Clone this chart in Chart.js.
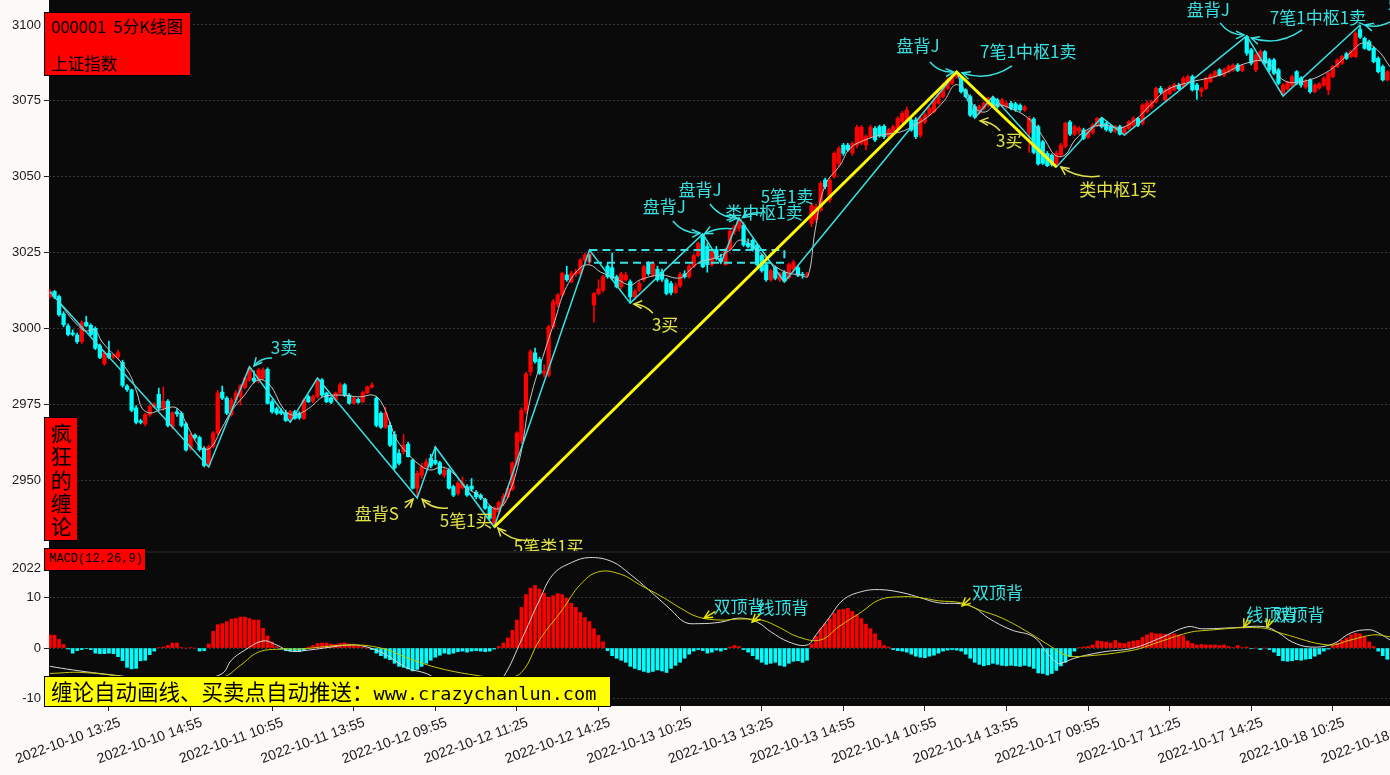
<!DOCTYPE html>
<html lang="zh">
<head>
<meta charset="UTF-8">
<title>000001 5分K线图</title>
<script src="https://cdn.jsdelivr.net/npm/chart.js@4.4.1/dist/chart.umd.min.js"></script>
<style>
  body {
    margin: 0;
    width: 1390px;
    height: 775px;
    overflow: hidden;
    position: relative;
    background: #fcf9f8;
    font-family: "Noto Sans CJK SC", sans-serif;
  }
  canvas { position: absolute; left: 0; }
  #main { top: 0; }
  #macd { top: 553px; }
  .sep { position: absolute; left: 49px; top: 551px; width: 1341px; height: 2px; background: #1c1c1c; }
  .box { position: absolute; background: #ff0000; border: 1px solid #000; box-sizing: border-box; color: #000; }
  #title { left: 44px; top: 12px; width: 147px; height: 64px; font-size: 16.5px; line-height: 19px; }
  #title div { position: absolute; left: 6px; white-space: pre; }
  #vert { left: 44px; top: 417px; width: 34px; height: 124px; font-size: 21px; line-height: 23.3px; text-align: center; padding-top: 3px; }
  #macdTag { left: 44px; top: 548px; width: 102px; height: 23px; font: 12px "Liberation Mono", monospace; line-height: 21px; padding-left: 4px; }
  #ad { position: absolute; left: 44px; top: 676px; width: 567px; height: 31px; background: #ffff00; border: 1px solid #000; box-sizing: border-box; color: #000; white-space: nowrap; line-height: 28px; padding-left: 6px; }
  #ad .cn { font-size: 21.5px; }
  #ad .url { font: 18.5px "DejaVu Sans Mono", monospace; }
</style>
</head>
<body>
<canvas id="main" width="1390" height="551"></canvas>
<div class="sep"></div>
<canvas id="macd" width="1390" height="222"></canvas>

<div class="box" id="title"><div style="top:4px">000001  5分K线图</div><div style="top:41px">上证指数</div></div>
<div class="box" id="vert">疯<br>狂<br>的<br>缠<br>论</div>
<div class="box" id="macdTag">MACD(12,26,9)</div>
<div id="ad"><span class="cn">缠论自动画线、买卖点自动推送：</span><span class="url">www.crazychanlun.com</span></div>

<script>
// 5分钟K线 2022-10-10 13:05 ~ 2022-10-18 13:40, one entry per bar
const opens = [
  3010.5,3012.2,3010.5,3004.8,3000.8,2998.5,2997.8,2995.6,3002.0,3001.0,
  3000.0,2994.2,2988.3,2991.8,2990.5,2990.6,2988.8,2981.0,2979.7,2973.8,
  2969.5,2968.5,2971.5,2974.2,2978.3,2973.8,2976.0,2967.6,2972.5,2972.0,
  2968.5,2960.5,2964.8,2964.0,2960.5,2954.9,2961.0,2965.5,2979.0,2977.0,
  2971.5,2976.4,2977.5,2980.5,2983.0,2983.6,2982.6,2983.5,2986.5,2975.8,
  2973.5,2972.8,2972.2,2970.3,2972.5,2972.0,2970.3,2977.5,2976.0,2977.5,
  2983.0,2978.7,2977.0,2976.4,2978.7,2981.4,2978.0,2975.3,2976.6,2975.8,
  2978.8,2980.7,2977.0,2972.0,2967.4,2968.0,2965.0,2958.8,2959.3,2961.8,
  2956.6,2947.3,2951.6,2954.4,2957.2,2956.5,2955.7,2951.6,2953.3,2947.8,
  2945.6,2947.5,2947.8,2948.0,2946.0,2945.0,2943.6,2941.2,2935.0,2939.5,
  2942.6,2944.5,2947.0,2955.6,2963.0,2973.0,2985.7,2991.9,2989.8,2985.2,
  2984.6,3000.5,3008.0,3011.0,3017.6,3015.4,3018.1,3018.0,3022.5,3022.0,
  3007.7,3011.5,3012.6,3020.5,3020.0,3017.0,3013.7,3016.0,3015.4,3010.4,
  3012.6,3016.0,3021.5,3017.6,3019.5,3018.5,3016.0,3014.8,3011.8,3014.0,
  3018.0,3017.0,3020.5,3024.0,3031.0,3027.0,3021.0,3026.0,3023.0,3021.0,
  3026.0,3032.0,3033.0,3034.0,3028.0,3029.0,3027.5,3024.0,3021.0,3016.0,
  3020.0,3016.0,3018.5,3016.7,3019.5,3020.0,3017.8,3017.6,3034.6,3036.0,
  3039.0,3048.9,3042.3,3050.0,3054.4,3060.4,3060.4,3057.8,3060.4,3061.0,
  3060.4,3063.2,3065.9,3066.5,3066.6,3063.2,3064.3,3065.9,3068.1,3068.7,
  3068.7,3068.7,3063.7,3068.1,3070.3,3071.4,3074.2,3076.4,3079.1,3080.8,
  3082.9,3082.4,3078.6,3076.4,3073.1,3071.0,3072.5,3073.6,3075.9,3075.3,
  3073.6,3073.1,3074.2,3074.0,3073.5,3072.0,3064.5,3069.0,3066.5,3061.5,
  3057.7,3057.0,3054.0,3057.1,3060.0,3068.0,3064.0,3065.0,3065.4,3063.0,
  3064.5,3067.0,3069.2,3067.5,3066.5,3065.0,3066.5,3064.3,3066.0,3067.0,
  3069.2,3067.6,3071.4,3073.0,3074.7,3079.1,3075.3,3077.5,3078.6,3080.2,
  3079.7,3081.3,3083.0,3080.2,3078.0,3079.1,3081.3,3083.0,3085.2,3083.5,
  3084.6,3085.2,3086.8,3085.0,3096.2,3091.8,3085.2,3088.5,3091.2,3088.5,
  3088.5,3085.2,3077.5,3079.0,3080.2,3084.6,3082.5,3079.5,3081.9,3078.0,
  3079.2,3080.2,3078.6,3083.0,3086.3,3087.4,3090.5,3089.6,3089.6,3098.5,
  3095.6,3094.5,3092.3,3089.0,3086.3,3081.9
];
const highs = [
  3012.8,3012.5,3011.0,3005.5,3001.5,2999.5,2998.5,3002.5,3004.0,3001.5,
  3000.5,2994.8,2992.5,2995.8,2991.5,2992.8,2989.5,2981.5,2980.0,2974.5,
  2970.0,2972.0,2974.8,2975.5,2980.3,2980.7,2976.5,2972.5,2973.5,2972.5,
  2969.0,2965.5,2965.2,2964.5,2961.0,2961.5,2966.0,2979.5,2981.0,2977.5,
  2977.0,2979.5,2981.5,2984.0,2987.3,2986.0,2986.8,2987.0,2987.0,2976.5,
  2974.0,2973.5,2973.0,2973.0,2973.0,2972.5,2977.0,2978.0,2978.0,2983.6,
  2983.4,2979.0,2977.5,2979.0,2982.0,2981.8,2978.5,2977.5,2977.0,2979.2,
  2981.0,2982.0,2977.5,2972.5,2974.0,2969.0,2966.0,2960.0,2965.0,2962.5,
  2957.0,2953.0,2955.5,2957.0,2958.5,2960.9,2956.2,2953.8,2953.8,2948.3,
  2949.5,2951.0,2948.5,2950.5,2946.5,2945.5,2944.0,2941.6,2941.2,2943.0,
  2945.5,2948.0,2956.0,2966.0,2973.8,2985.5,2993.0,2993.5,2990.5,2988.0,
  3001.0,3009.5,3011.5,3018.5,3020.5,3018.8,3019.5,3023.0,3024.8,3025.8,
  3011.8,3016.0,3017.5,3021.5,3024.8,3017.5,3018.5,3018.5,3016.0,3013.0,
  3015.5,3020.8,3022.0,3022.0,3020.5,3019.5,3016.5,3015.5,3015.0,3018.5,
  3019.0,3021.0,3024.5,3028.5,3031.1,3028.0,3026.0,3027.0,3024.5,3026.5,
  3032.5,3034.0,3036.4,3034.8,3029.5,3029.5,3028.0,3024.5,3021.5,3019.5,
  3020.5,3018.5,3019.0,3021.5,3022.5,3020.5,3018.5,3018.5,3041.5,3041.0,
  3048.5,3049.5,3049.5,3058.2,3060.0,3061.0,3061.0,3061.5,3067.0,3066.8,
  3063.8,3067.0,3066.5,3067.0,3067.2,3066.0,3067.0,3069.8,3071.5,3073.0,
  3069.5,3069.5,3070.0,3071.0,3073.2,3076.0,3078.2,3080.8,3082.5,3083.6,
  3084.5,3083.0,3079.0,3077.0,3073.8,3073.6,3074.8,3076.2,3076.5,3075.8,
  3075.8,3074.8,3074.8,3074.5,3074.0,3073.5,3069.8,3069.5,3067.0,3062.0,
  3058.3,3057.5,3058.5,3061.0,3068.0,3068.5,3067.0,3066.5,3066.0,3065.5,
  3067.5,3069.5,3069.5,3068.0,3067.0,3067.0,3067.0,3066.5,3068.5,3069.8,
  3069.6,3074.0,3075.0,3075.2,3079.5,3079.8,3079.0,3080.0,3080.8,3080.8,
  3083.0,3083.5,3083.5,3080.8,3079.5,3082.8,3084.0,3085.0,3085.6,3085.8,
  3086.8,3087.2,3087.3,3087.0,3096.4,3092.3,3090.6,3091.8,3091.6,3089.0,
  3089.0,3085.7,3080.6,3081.5,3083.5,3085.0,3083.0,3082.0,3082.3,3080.6,
  3081.0,3083.0,3084.5,3086.7,3088.9,3090.0,3091.0,3091.6,3097.8,3100.0,
  3096.0,3095.0,3092.8,3089.5,3086.8,3085.0
];
const lows = [
  3010.0,3009.8,3004.0,3000.5,2997.5,2997.5,2995.0,2995.0,3000.5,2997.5,
  2993.0,2990.0,2987.8,2990.0,2990.0,2989.8,2980.6,2979.2,2972.5,2968.5,
  2968.5,2967.8,2971.0,2973.8,2973.2,2973.0,2967.5,2966.8,2971.0,2967.5,
  2959.5,2959.8,2963.5,2959.5,2954.3,2954.3,2960.5,2965.0,2976.5,2971.5,
  2971.0,2975.5,2974.7,2980.0,2982.5,2982.0,2982.0,2983.0,2975.0,2972.0,
  2971.5,2971.5,2969.3,2969.1,2970.0,2970.0,2970.0,2975.5,2975.5,2977.0,
  2977.5,2975.5,2975.2,2976.0,2978.0,2977.5,2975.0,2975.0,2975.3,2975.5,
  2978.5,2980.3,2967.5,2967.0,2967.0,2961.0,2953.5,2955.0,2958.5,2957.5,
  2947.0,2944.1,2950.5,2953.8,2954.0,2955.0,2951.8,2950.8,2947.0,2944.5,
  2945.0,2947.0,2944.6,2946.5,2943.8,2943.5,2940.3,2937.0,2934.5,2938.8,
  2941.5,2944.0,2946.5,2955.0,2962.0,2972.0,2984.5,2988.5,2984.8,2984.0,
  2984.0,3000.0,3007.0,3010.5,3015.5,3015.0,3017.0,3017.5,3021.8,3021.0,
  3002.0,3011.0,3012.0,3016.5,3016.0,3013.3,3013.0,3015.5,3008.3,3009.5,
  3012.0,3015.5,3017.5,3017.0,3015.5,3015.5,3011.0,3011.0,3011.5,3013.5,
  3016.5,3016.5,3020.0,3023.5,3020.0,3018.5,3020.5,3022.5,3021.5,3020.8,
  3025.5,3031.0,3032.0,3027.0,3026.5,3025.5,3020.5,3018.5,3015.5,3015.5,
  3016.0,3015.5,3015.3,3016.3,3019.0,3017.0,3016.5,3016.8,3033.5,3035.0,
  3038.5,3046.0,3041.5,3049.5,3053.5,3057.0,3058.3,3057.0,3059.5,3060.5,
  3058.8,3062.8,3061.5,3063.0,3062.5,3062.8,3064.0,3065.5,3067.5,3068.3,
  3065.0,3062.5,3063.0,3067.5,3070.0,3071.0,3073.8,3076.0,3078.7,3080.3,
  3082.4,3077.5,3076.0,3069.8,3069.3,3070.5,3072.0,3073.0,3073.2,3072.5,
  3073.0,3072.5,3072.0,3071.5,3071.5,3071.5,3058.0,3057.5,3053.8,3054.0,
  3053.3,3053.5,3053.2,3056.5,3059.5,3063.5,3063.5,3064.0,3062.2,3062.5,
  3064.0,3066.5,3066.0,3065.0,3064.5,3064.5,3063.7,3063.7,3065.5,3066.5,
  3066.5,3067.0,3071.0,3072.5,3074.2,3077.3,3074.8,3077.0,3078.2,3078.6,
  3079.2,3081.0,3078.2,3075.5,3076.4,3078.7,3081.0,3082.7,3083.2,3083.0,
  3084.2,3084.8,3084.6,3084.6,3090.0,3086.8,3084.6,3088.0,3086.8,3084.6,
  3083.6,3080.3,3076.6,3078.5,3079.7,3080.3,3079.5,3079.0,3077.5,3077.6,
  3078.8,3079.8,3077.0,3082.6,3085.9,3087.0,3088.6,3089.2,3089.2,3095.5,
  3092.0,3091.5,3087.5,3084.2,3081.5,3081.5
];
const closes = [
  3012.2,3010.3,3004.5,3001.2,2998.0,2998.0,2995.6,3001.8,3000.8,2998.0,
  2993.4,2990.4,2992.0,2990.4,2991.2,2992.0,2981.2,2979.8,2973.0,2969.0,
  2969.0,2971.5,2974.2,2975.0,2973.7,2976.0,2968.0,2972.2,2971.8,2968.0,
  2959.9,2964.9,2964.0,2960.0,2954.8,2961.0,2965.5,2978.7,2977.0,2972.0,
  2976.4,2978.7,2981.0,2983.6,2986.9,2982.6,2986.3,2986.3,2975.3,2972.5,
  2972.0,2972.0,2969.6,2972.5,2970.3,2970.5,2976.4,2975.8,2977.5,2983.0,
  2978.0,2975.8,2975.6,2978.7,2981.4,2978.0,2975.3,2977.0,2975.6,2978.8,
  2980.7,2981.3,2968.0,2967.4,2972.2,2961.5,2954.0,2955.5,2961.5,2957.7,
  2947.3,2952.2,2954.4,2956.0,2954.6,2955.5,2952.2,2953.3,2947.3,2945.0,
  2949.0,2949.0,2945.0,2947.0,2944.5,2944.0,2940.7,2937.4,2940.7,2942.6,
  2944.5,2947.2,2955.6,2965.5,2973.0,2985.0,2992.3,2989.0,2985.2,2986.0,
  3000.5,3008.8,3011.0,3018.1,3016.0,3018.1,3018.6,3022.5,3024.2,3024.5,
  3011.5,3013.0,3017.0,3017.0,3016.5,3013.7,3018.0,3017.5,3010.4,3012.3,
  3014.8,3020.3,3018.0,3021.4,3016.0,3016.2,3011.5,3011.8,3014.0,3017.8,
  3017.0,3020.5,3024.0,3028.0,3020.3,3021.0,3025.5,3023.0,3022.0,3026.0,
  3032.0,3033.5,3035.5,3027.5,3027.0,3026.0,3021.0,3019.0,3016.0,3019.0,
  3016.5,3018.0,3015.6,3021.0,3021.8,3017.5,3017.5,3017.6,3040.5,3040.0,
  3047.8,3046.7,3048.9,3057.7,3059.3,3057.7,3058.8,3061.0,3066.3,3066.3,
  3063.2,3066.3,3062.1,3063.4,3063.2,3065.4,3066.5,3069.2,3070.9,3072.0,
  3065.4,3063.2,3069.2,3070.3,3072.5,3075.3,3077.5,3080.2,3081.9,3083.0,
  3084.2,3078.0,3076.4,3070.3,3069.6,3073.1,3074.2,3075.9,3073.6,3073.1,
  3075.3,3074.2,3072.5,3072.0,3072.0,3073.0,3069.2,3058.0,3054.2,3054.4,
  3053.6,3054.0,3057.7,3060.4,3067.6,3064.0,3066.5,3066.0,3062.6,3065.0,
  3067.0,3069.2,3066.5,3065.5,3065.0,3066.5,3064.0,3066.0,3068.1,3069.2,
  3067.0,3073.6,3074.2,3074.7,3079.1,3077.8,3078.6,3079.5,3080.2,3079.0,
  3082.4,3083.0,3078.6,3078.6,3079.0,3082.4,3083.5,3084.6,3083.5,3085.2,
  3086.3,3086.8,3085.0,3086.5,3090.7,3087.4,3090.1,3091.2,3087.4,3085.2,
  3084.1,3080.8,3080.2,3081.0,3083.0,3080.8,3080.2,3081.5,3078.0,3080.2,
  3080.6,3082.4,3084.1,3086.3,3088.5,3089.6,3089.0,3091.2,3097.3,3096.0,
  3092.3,3091.8,3087.9,3084.6,3081.9,3084.6
];

// 均线 (bar index, price)
const maPoints = [
  [0.7,3011.0],[7.3,2999.4],[9.9,2999.4],[11.5,2995.5],[17,2986.3],[19.2,2978.7],[20.3,2973.7],
  [22.1,2972.1],[24.3,2973.1],[28,2973.7],[30.4,2967.5],[33.1,2960.9],[35.3,2960.5],[37.9,2967.1],
  [40.2,2973.1],[42.6,2977.4],[45.9,2983.0],[48.5,2981.3],[51.4,2973.7],[53.4,2971.4],[55.8,2972.4],
  [58,2974.7],[60.2,2977.4],[64,2978.0],[68.4,2977.4],[71.3,2978.0],[73.2,2975.4],[75,2968.8],
  [76.5,2963.2],[78.8,2958.9],[81,2955.6],[83.8,2953.3],[86.5,2954.3],[88.9,2952.3],[92,2947.3],
  [95.3,2944.4],[97.7,2940.8],[99.3,2940.8],[101,2944.4],[103.7,2957.6],[105.9,2976.4],[109.2,2992.8],
  [111.4,3002.7],[113.6,3012.6],[116.9,3019.9],[119.1,3020.9],[121.4,3018.6],[124.6,3016.6],
  [128,3014.3],[130.2,3016.0],[134.6,3017.6],[139,3016.6],[141.2,3019.3],[143.4,3021.9],
  [146.7,3023.2],[150,3025.8],[152.2,3029.1],[155.5,3026.5],[158.8,3021.9],[162.1,3018.6],
  [165.5,3017.6],[167.2,3017.2],[168.8,3032.4],[171,3047.2],[174.3,3053.8],[176.5,3059.4],
  [179.8,3062.1],[183.1,3063.7],[187.5,3064.7],[190.8,3067.0],[194.1,3070.3],[197.4,3075.3],
  [199.6,3080.2],[201.9,3078.6],[204.1,3072.6],[206.3,3071.3],[208.5,3073.6],[211.8,3072.6],
  [216.2,3068.7],[219.5,3062.1],[221.7,3057.1],[223.9,3057.1],[226.1,3062.1],[229.4,3066.0],
  [232.7,3067.0],[236,3066.0],[239.4,3068.7],[242.7,3073.6],[246.4,3078.6],[250.8,3080.9],
  [258.1,3083.5],[264.1,3087.5],[268.5,3087.8],[272,3081.9],[275.8,3081.2],[281.7,3084.5],
  [286.8,3090.8],[289.7,3094.1],[292.8,3091.8],[295.6,3086.2]
];

// 笔 (cyan) and 线段 (yellow) vertices: bar index, price
const biPoints = [
  [0,3012.0],[35,2954.3],[44,2987.3],[53,2969.1],[59,2983.6],[81,2944.1],[85,2960.9],[98,2934.5],
  [119,3025.8],[128,3008.3],[144,3031.1],[148,3021.5],[152,3036.4],[162,3015.3],[200,3084.5],
  [204,3069.3],[208,3076.5],[222,3053.2],[232,3069.5],[237,3063.7],[264,3096.4],[272,3076.6],
  [289,3100.0]
];
const segPoints = [[98,2934.5],[200,3084.5],[222,3053.2]];
// 中枢: first bar, last bar, low, high
const zsBox = [119, 162, 3021.6, 3025.8];

// MACD(12,26,9)
const macdHist = [
  2.6,2.5,1.7,0.7,-0.2,-1.0,-0.5,-0.3,-0.1,-0.3,
  -1.0,-1.1,-1.1,-1.0,-1.1,-1.7,-2.5,-3.8,-4.1,-4.0,
  -2.5,-2.4,-1.3,-0.6,0.1,0.2,0.5,1.0,1.0,0.1,
  0.0,0.1,0.0,-0.6,-0.5,0.8,3.3,4.6,4.8,5.2,
  5.7,5.8,6.1,6.1,5.8,5.5,5.5,3.9,2.4,1.2,
  0.3,-0.2,-0.5,-0.6,-0.6,-0.7,-0.5,0.2,0.5,0.9,
  1.0,1.0,0.8,0.7,0.9,1.0,0.8,0.6,0.4,0.2,
  0.0,-0.3,-1.0,-1.5,-2.0,-2.3,-3.0,-3.6,-3.8,-4.1,
  -4.5,-4.2,-3.6,-3.0,-2.4,-1.8,-1.4,-1.0,-1.2,-1.0,
  -0.7,-0.6,-0.8,-0.6,-0.5,-0.6,-0.7,-0.6,-0.2,0.3,
  1.0,2.0,3.5,5.5,8.0,10.5,11.8,12.3,11.6,10.8,
  10.0,10.3,10.7,10.5,9.8,8.8,8.0,7.0,6.0,5.2,
  3.8,2.5,1.2,-0.5,-1.5,-2.0,-2.4,-2.8,-3.6,-4.0,
  -4.3,-4.6,-4.8,-4.6,-4.3,-4.5,-4.8,-4.0,-3.4,-2.8,
  -2.0,-1.2,-0.6,-0.3,-0.5,-1.0,-0.8,-0.4,-0.6,-0.3,
  0.2,0.5,0.3,-0.3,-0.8,-1.5,-2.2,-2.8,-3.2,-3.0,
  -2.8,-3.4,-3.6,-3.0,-2.6,-2.5,-2.8,-2.4,0.8,2.3,
  3.8,4.8,5.8,6.8,7.5,7.6,7.8,7.2,6.5,5.8,
  4.7,3.8,2.8,1.5,0.5,0.2,-0.3,-0.5,-0.6,-0.8,
  -1.2,-1.6,-1.8,-1.9,-1.6,-1.4,-1.0,-0.6,-0.4,-0.3,
  -0.4,-0.6,-1.2,-2.0,-2.8,-3.2,-3.5,-3.3,-3.0,-3.2,
  -3.4,-3.5,-3.4,-3.5,-3.6,-3.4,-3.6,-4.0,-4.9,-5.0,
  -5.3,-5.0,-4.4,-3.5,-2.8,-1.7,-0.6,0.1,0.2,0.3,
  0.6,1.4,1.3,1.2,1.0,1.5,1.0,0.9,1.2,1.4,
  1.5,2.1,2.6,3.0,2.8,2.8,2.7,2.6,2.8,2.6,
  2.4,1.4,0.9,0.6,0.7,0.6,0.6,0.6,0.5,0.6,
  0.3,0.1,0.5,0.1,0.2,-0.1,0.0,-0.3,0.0,-0.3,
  -0.8,-1.5,-2.5,-2.6,-2.5,-2.3,-2.4,-2.2,-2.1,-1.6,
  -1.2,-0.6,-0.2,0.5,1.0,1.5,2.0,2.6,2.9,2.8,
  2.2,1.2,0.3,-0.6,-1.5,-2.2
];
const difPoints = [
  [0,-3.6],[5,-4.3],[11,-5.0],[22,-6.0],[33,-6.1],[38,-5.0],[40,-2.4],[43,-0.4],[47,1.4],[50,0.6],
  [53,-0.6],[57,-0.4],[62,0.2],[66,0.6],[69,0.4],[73,-0.8],[76,-2.4],[79,-4.0],[83,-5.0],[86,-6.3],
  [93,-6.9],[98,-6.7],[100,-5.7],[104,1.6],[108,9.5],[111,14.5],[115,16.8],[119,17.8],[124,17.0],
  [128,14.5],[132,11.5],[137,7.5],[140,5.1],[143,4.8],[148,5.1],[152,5.9],[156,5.1],[159,3.2],
  [163,1.2],[167,0.6],[169,2.6],[172,6.1],[175,9.5],[179,11.1],[183,11.5],[188,10.9],[192,9.9],
  [196,8.9],[201,8.7],[204,7.9],[207,5.9],[212,3.6],[217,2.2],[220,-1.0],[222,-2.8],[223,-3.0],
  [226,-2.0],[232,-0.8],[239,0.0],[245,2.0],[251,4.2],[254,3.8],[261,4.0],[268,4.2],[271,3.0],
  [274,1.2],[278,0.2],[283,0.8],[287,3.0],[291,3.6],[293,3.0],[295.6,1.6]
];
const deaPoints = [
  [0,-5.0],[7,-4.8],[22,-6.0],[38,-5.7],[42,-3.4],[46,-0.8],[51,-0.2],[55,-0.2],[66,0.6],[73,0.0],
  [79,-2.0],[86,-4.0],[95,-5.5],[100,-5.9],[104,-4.8],[108,1.6],[113,7.5],[117,12.5],[121,15.0],
  [126,14.5],[130,12.5],[135,10.1],[139,7.9],[143,6.1],[148,5.5],[152,5.7],[157,5.5],[161,4.0],
  [165,2.2],[170,1.6],[174,4.2],[179,7.1],[183,9.5],[188,10.1],[192,9.9],[196,9.3],[201,8.9],
  [205,7.5],[210,5.9],[216,3.0],[221,0.2],[224,-1.4],[228,-1.6],[239,-0.4],[244,1.0],[251,3.0],
  [254,3.4],[267,4.0],[272,2.8],[282,0.6],[287,1.6],[292,2.6],[295.6,2.2]
];

const tickLabels = [
  '2022-10-10 13:25','2022-10-10 14:55','2022-10-11 10:55','2022-10-11 13:55','2022-10-12 09:55',
  '2022-10-12 11:25','2022-10-12 14:25','2022-10-13 10:25','2022-10-13 13:25','2022-10-13 14:55',
  '2022-10-14 10:55','2022-10-14 13:55','2022-10-17 09:55','2022-10-17 11:25','2022-10-17 14:25',
  '2022-10-18 10:25','2022-10-18 13:25'
];
const firstTick = 4, tickStep = 18;
const priceTicks = [2950, 2975, 3000, 3025, 3050, 3075, 3100];
const macdTicks = [-10, 0, 10, 15.7];

const CY = '#38e2e2', YE = '#e2e246', RED = '#ff0000', CANDLE_CY = '#00ffff';

// 买卖点标注: text, colour, text position, arrow tail, arrow tip, bend
const mainNotes = [
  ['3卖', CY, [51.6, 2993.8], [49, 2990.2], [45, 2987.6], 0.25],
  ['盘背S', YE, [72.1, 2938.8], [78.3, 2940.8], [80.1, 2943.7], 0],
  ['5笔1买', YE, [91.8, 2936.8], [87.8, 2940.8], [82.1, 2943.7], -0.25],
  ['5笔类1买', YE, [110, 2928.0], [106.3, 2930.2], [98.8, 2934.2], -0.25],
  ['3买', YE, [135.7, 3001.1], [133, 3005.0], [128.8, 3008.0], 0.2],
  ['盘背J', CY, [135.5, 3040.0], [137.4, 3035.4], [143.4, 3031.4], 0.25],
  ['盘背J', CY, [143.4, 3045.6], [145.6, 3041.0], [151.6, 3036.4], 0.25],
  ['类中枢1卖', CY, [157.5, 3038.3], [150.5, 3032.8], [144.4, 3031.2], 0.15],
  ['5笔1卖', CY, [162.6, 3043.3], [157.0, 3038.0], [152.8, 3036.5], 0.2],
  ['盘背J', CY, [191.5, 3093.1], [194.1, 3087.8], [199.4, 3084.5], 0.25],
  ['7笔1中枢1卖', CY, [215.8, 3091.1], [212.2, 3086.5], [201.2, 3084.2], -0.25],
  ['3买', YE, [211.6, 3061.8], [209.6, 3065.1], [205.2, 3068.4], 0.2],
  ['类中枢1买', YE, [235.6, 3045.6], [231.6, 3050.2], [223, 3053.2], -0.2],
  ['盘背J', CY, [255.5, 3105.0], [258.1, 3100.7], [263.4, 3096.7], 0.25],
  ['7笔1中枢1卖', CY, [279.7, 3102.6], [276.2, 3098.4], [265, 3095.7], -0.25],
  ['5', CY, [296.2, 3106.6], [295.6, 3101.0], [290.1, 3100.0], -0.2]
];
const macdNotes = [
  ['双顶背', CY, [152, 8.1], [146.8, 7.2], [144.3, 5.9], 0],
  ['线顶背', CY, [161.7, 7.9], [156.6, 6.6], [154.9, 5.1], 0],
  ['双顶背', CY, [209, 10.9], [203, 9.8], [201.2, 8.3], 0],
  ['线顶背', CY, [269.5, 6.6], [264.3, 5.9], [263.4, 4.1], 0],
  ['双顶背', CY, [275.5, 6.6], [269.1, 5.7], [268.5, 4.1], 0]
];

const bars = closes.map((c, i) => i);
const candleColor = i => closes[i] >= opens[i] ? RED : CANDLE_CY;
const xRange = { min: -0.22, max: 295.6 };

function drawArrow(ctx, x1, y1, x2, y2, bend) {
  const mx = (x1 + x2) / 2, my = (y1 + y2) / 2;
  const cx = mx - (y2 - y1) * bend, cy = my + (x2 - x1) * bend;
  ctx.beginPath();
  ctx.moveTo(x1, y1);
  ctx.quadraticCurveTo(cx, cy, x2, y2);
  ctx.stroke();
  const a = Math.atan2(y2 - cy, x2 - cx);
  ctx.beginPath();
  ctx.moveTo(x2 - 9 * Math.cos(a - 0.45), y2 - 9 * Math.sin(a - 0.45));
  ctx.lineTo(x2, y2);
  ctx.lineTo(x2 - 9 * Math.cos(a + 0.45), y2 - 9 * Math.sin(a + 0.45));
  ctx.stroke();
}

function notesPlugin(notes, arrowColor) {
  return {
    id: 'notes',
    afterDatasetsDraw(chart) {
      const { ctx, scales: { x, y }, chartArea } = chart;
      ctx.save();
      ctx.beginPath();
      ctx.rect(chartArea.left, chartArea.top, chartArea.right - chartArea.left, chartArea.bottom - chartArea.top);
      ctx.clip();
      ctx.font = '17px "Noto Sans CJK SC", sans-serif';
      ctx.textAlign = 'center';
      ctx.textBaseline = 'middle';
      ctx.lineWidth = 1.5;
      for (const [text, color, at, from, to, bend] of notes) {
        ctx.fillStyle = color;
        ctx.fillText(text, x.getPixelForValue(at[0]), y.getPixelForValue(at[1]));
        ctx.strokeStyle = arrowColor || color;
        drawArrow(ctx, x.getPixelForValue(from[0]), y.getPixelForValue(from[1]),
          x.getPixelForValue(to[0]), y.getPixelForValue(to[1]), bend);
      }
      ctx.restore();
    }
  };
}

const plotBg = {
  id: 'plotBg',
  beforeDraw(chart) {
    const { ctx, chartArea: a } = chart;
    ctx.save();
    ctx.fillStyle = '#0a0a0a';
    ctx.fillRect(a.left, a.top, a.right - a.left, a.bottom - a.top);
    ctx.restore();
  }
};

const xTickValues = tickLabels.map((t, k) => firstTick + k * tickStep);

const xLabels = {
  id: 'xLabels',
  afterDraw(chart) {
    const { ctx, scales: { x }, chartArea } = chart;
    ctx.save();
    ctx.fillStyle = '#1a1a1a';
    ctx.font = '14px "Liberation Sans", sans-serif';
    ctx.textAlign = 'center';
    ctx.textBaseline = 'middle';
    tickLabels.forEach((t, k) => {
      ctx.save();
      ctx.translate(x.getPixelForValue(xTickValues[k]), chartArea.bottom + 35);
      ctx.rotate(-20 * Math.PI / 180);
      ctx.fillText(t, 0, 0);
      ctx.restore();
    });
    ctx.restore();
  }
};

// y axis with a fixed width and no extra top/bottom padding for the end labels
const yAxis = (min, max, values, label) => ({
  min, max,
  position: 'left',
  afterFit: s => { s.width = 49; s.paddingTop = 0; s.paddingBottom = 0; },
  afterBuildTicks: s => { s.ticks = values.map(v => ({ value: v })); },
  border: { display: false, dash: [2, 2] },
  grid: {
    color: c => (c.tick && c.tick.value === 15.7) ? 'rgba(0,0,0,0)' : '#3a3a3a',
    tickColor: '#222',
    tickLength: 5,
    lineWidth: 1
  },
  ticks: {
    color: '#1a1a1a',
    padding: 3,
    font: { family: 'Liberation Sans', size: 13 },
    callback: label
  }
});

new Chart(document.getElementById('main'), {
  type: 'bar',
  data: {
    datasets: [
      {
        type: 'line', order: 1,
        data: segPoints.map(p => ({ x: p[0], y: p[1] })),
        borderColor: '#ffff00', borderWidth: 3, pointRadius: 0, tension: 0
      },
      {
        type: 'line', order: 2,
        data: biPoints.map(p => ({ x: p[0], y: p[1] })),
        borderColor: CY, borderWidth: 1.5, pointRadius: 0, tension: 0
      },
      {
        type: 'line', order: 3,
        data: [[zsBox[0], zsBox[3]], [zsBox[1], zsBox[3]], [zsBox[1], zsBox[2]], [zsBox[0], zsBox[2]], [zsBox[0], zsBox[3]]]
          .map(p => ({ x: p[0], y: p[1] })),
        borderColor: CY, borderWidth: 2, borderDash: [8, 5], pointRadius: 0, tension: 0
      },
      {
        type: 'line', order: 4,
        data: maPoints.map(p => ({ x: p[0], y: p[1] })),
        borderColor: '#c4c4c4', borderWidth: 1, pointRadius: 0, tension: 0.4
      },
      {
        order: 5, grouped: false,
        data: bars.map(i => ({ x: i, y: [Math.min(opens[i], closes[i]), Math.max(opens[i], closes[i])] })),
        backgroundColor: c => candleColor(c.dataIndex),
        barThickness: 3.6, minBarLength: 1, borderWidth: 0
      },
      {
        order: 6, grouped: false,
        data: bars.map(i => ({ x: i, y: [lows[i], highs[i]] })),
        backgroundColor: c => candleColor(c.dataIndex),
        barThickness: 1, borderWidth: 0
      }
    ]
  },
  options: {
    responsive: false, animation: false, devicePixelRatio: 1,
    layout: { padding: 0 },
    plugins: { legend: { display: false }, tooltip: { enabled: false } },
    scales: {
      x: { type: 'linear', ...xRange, offset: false, display: false },
      y: yAxis(2926.6, 3108.24, priceTicks, v => v)
    }
  },
  plugins: [plotBg, notesPlugin(mainNotes)]
});

new Chart(document.getElementById('macd'), {
  type: 'bar',
  data: {
    datasets: [
      {
        type: 'line', order: 1,
        data: deaPoints.map(p => ({ x: p[0], y: p[1] })),
        borderColor: '#c8c800', borderWidth: 1, pointRadius: 0, tension: 0.4
      },
      {
        type: 'line', order: 2,
        data: difPoints.map(p => ({ x: p[0], y: p[1] })),
        borderColor: '#d8d8d8', borderWidth: 1, pointRadius: 0, tension: 0.4
      },
      {
        order: 3,
        data: bars.map(i => ({ x: i, y: macdHist[i] })),
        backgroundColor: c => macdHist[c.dataIndex] >= 0 ? RED : CANDLE_CY,
        barThickness: 3, borderWidth: 0
      }
    ]
  },
  options: {
    responsive: false, animation: false, devicePixelRatio: 1,
    layout: { padding: 0 },
    plugins: { legend: { display: false }, tooltip: { enabled: false } },
    scales: {
      x: {
        type: 'linear', ...xRange, offset: false,
        afterFit: s => { s.height = 69; s.paddingLeft = 0; s.paddingRight = 0; },
        afterBuildTicks: s => { s.ticks = xTickValues.map(v => ({ value: v })); },
        ticks: { display: false },
        border: { display: false },
        grid: { drawOnChartArea: false, tickLength: 5, tickColor: '#222' }
      },
      y: yAxis(-11.4, 18.7, macdTicks, v => v === 15.7 ? '2022' : v)
    }
  },
  plugins: [plotBg, notesPlugin(macdNotes, '#e6e600'), xLabels]
});
</script>
</body>
</html>
